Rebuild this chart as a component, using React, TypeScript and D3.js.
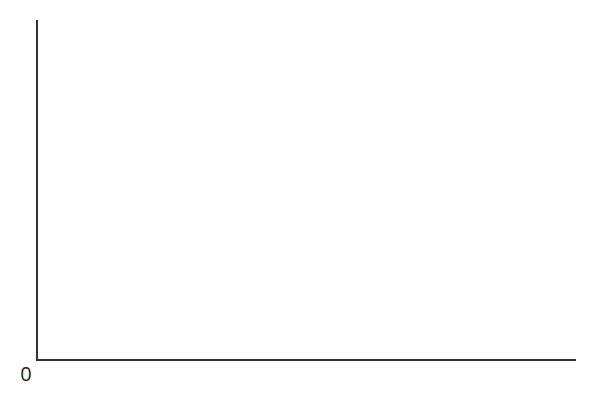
import React from "react";
import * as d3 from "d3";

const categories: string[] = [];
const values: number[] = [];
const yTickLabels: string[] = ["0"];

const W = 596;
const H = 402;
const margin = { top: 20, right: 20, bottom: 42, left: 37 };

export default function App() {
  const x = d3
    .scaleBand<string>()
    .domain(categories)
    .range([margin.left, W - margin.right]);
  const y = d3
    .scaleLinear()
    .domain([0, d3.max(values) ?? 1])
    .range([H - margin.bottom, margin.top]);
  const y0 = y(0);
  const [x0, x1] = x.range();
  return (
    <svg
      width={W}
      height={H}
      style={{ position: "absolute", left: 0, top: 0 }}
      fontFamily="'Open Sans', sans-serif"
    >
      <line x1={x0} x2={x0} y1={margin.top} y2={y0 + 1} stroke="#333" strokeWidth={2} />
      <line x1={x0} x2={x1} y1={y0} y2={y0} stroke="#333" strokeWidth={2} />
      {yTickLabels.map((t) => (
        <text key={t} x={26} y={y0 + 21} textAnchor="middle" fontSize={20} fill="#222">
          {t}
        </text>
      ))}
    </svg>
  );
}
